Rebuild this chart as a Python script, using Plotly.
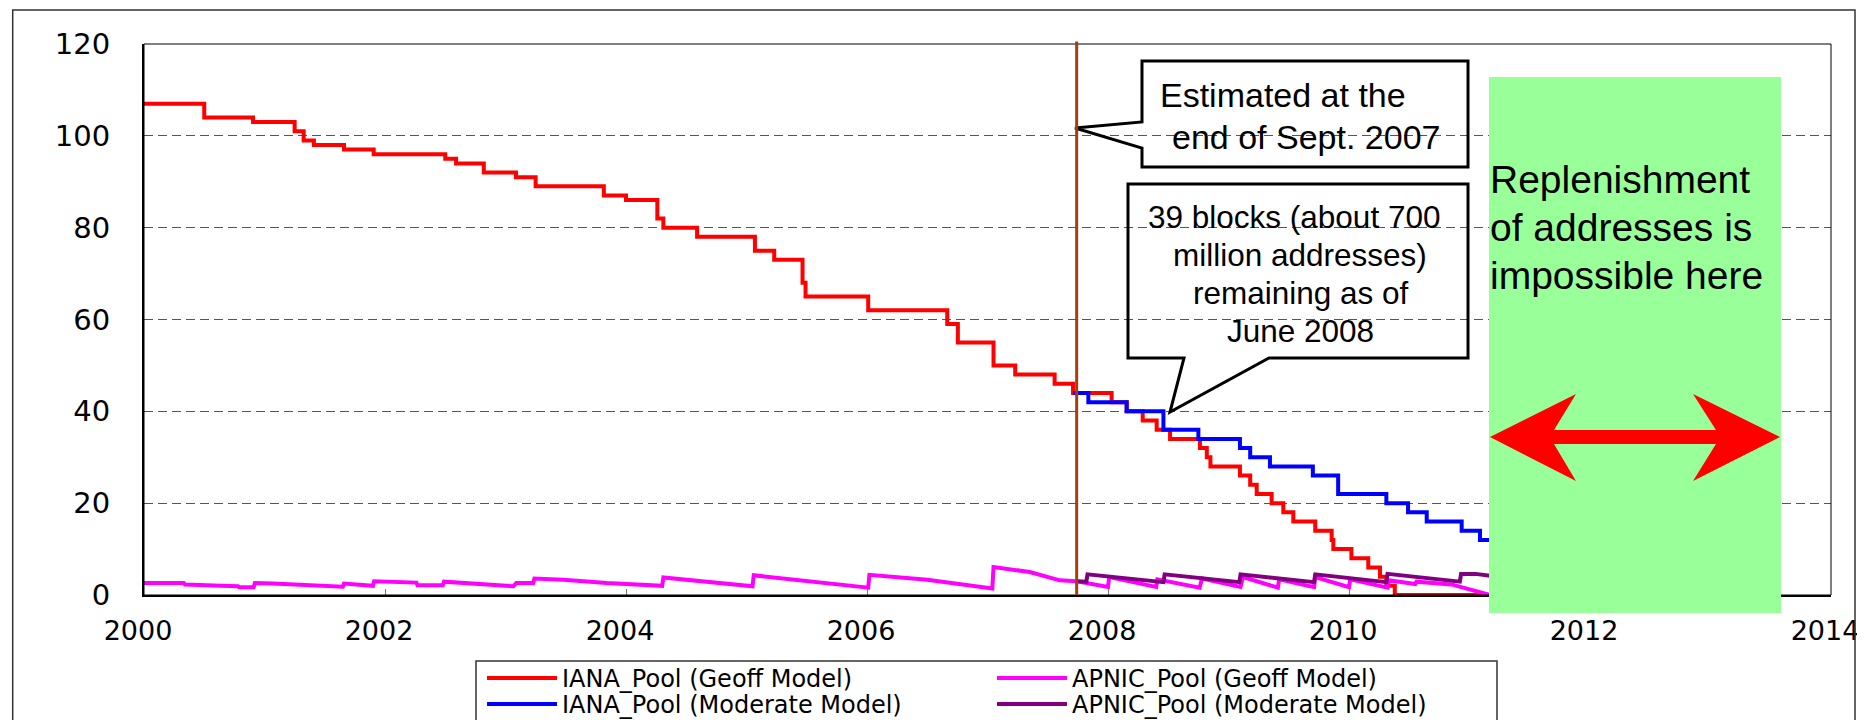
import plotly.graph_objects as go

# ---------------- data ----------------
iana_geoff_x = [2000.0, 2000.50, 2000.905, 2001.25, 2001.325, 2001.41, 2001.66, 2001.906, 2002.50, 2002.59,
                2002.82, 2003.087, 2003.25, 2003.816, 2004.00, 2004.26, 2004.31, 2004.59, 2005.07, 2005.23,
                2005.465, 2005.49, 2006.01, 2006.666, 2006.754, 2007.05, 2007.23, 2007.557, 2007.71, 2008.03,
                2008.155, 2008.288, 2008.404, 2008.515, 2008.763, 2008.82, 2008.85, 2009.095, 2009.18, 2009.234,
                2009.358, 2009.455, 2009.538, 2009.72, 2009.856, 2009.87, 2010.02, 2010.16, 2010.257, 2010.31,
                2010.38, 2011.2]
iana_geoff_y = [107, 104, 103, 101, 99, 98, 97, 96, 95, 94,
                92, 91, 89, 87, 86, 82, 80, 78, 75, 73,
                68, 65, 62, 59, 55, 50, 48, 46, 44, 42,
                40, 38, 36, 34, 32, 30, 28, 26, 24, 22,
                20, 18, 16, 14, 12, 10, 8, 6, 4, 2,
                0, 0]

iana_moderate_x = [2007.71, 2007.837, 2008.155, 2008.46, 2008.75, 2009.095, 2009.18, 2009.344, 2009.70, 2009.91,
                   2010.31, 2010.49, 2010.645, 2010.935, 2011.087, 2011.2]
iana_moderate_y = [44, 42, 40, 36, 34, 32, 30, 28, 26, 22,
                   20, 18, 16, 14, 12, 12]

apnic_geoff_x = [2000.00, 2000.33, 2000.34, 2000.63, 2000.64, 2000.78, 2000.79, 2000.91, 2000.92, 2001.07,
                 2001.27, 2001.52, 2001.65, 2001.66, 2001.85, 2001.90, 2001.91, 2002.26, 2002.27, 2002.48,
                 2002.49, 2002.84, 2003.065, 2003.09, 2003.23, 2003.24, 2003.48, 2003.84, 2004.20, 2004.30,
                 2004.31, 2004.60, 2005.05, 2005.06, 2005.50, 2006.01, 2006.02, 2006.50, 2007.04, 2007.05,
                 2007.35, 2007.60, 2007.74, 2008.00, 2008.01, 2008.40, 2008.41, 2008.76, 2008.78, 2009.10,
                 2009.12, 2009.41, 2009.42, 2009.71, 2009.72, 2010.00, 2010.01, 2010.32, 2010.33, 2010.55,
                 2010.56, 2010.85, 2011.17]
apnic_geoff_y = [2.6, 2.6, 2.3, 2.2, 2.0, 1.9, 1.7, 1.7, 2.6, 2.5,
                 2.2, 1.8, 1.8, 2.5, 2.1, 2.0, 3.0, 2.7, 2.1, 2.1,
                 2.9, 2.4, 1.9, 2.6, 2.6, 3.6, 3.3, 2.6, 2.2, 2.0,
                 3.8, 3.0, 1.9, 4.3, 3.0, 1.6, 4.4, 3.3, 1.4, 6.1,
                 5.0, 3.2, 3.0, 1.75, 3.9, 1.75, 3.4, 1.6, 3.6, 1.75,
                 3.9, 1.6, 3.4, 1.7, 3.9, 1.7, 3.4, 1.6, 3.2, 2.4,
                 2.9, 2.3, 0.0]

apnic_moderate_x = [2007.74, 2007.82, 2007.83, 2008.46, 2008.47, 2009.09, 2009.10, 2009.71, 2009.72, 2010.31,
                    2010.32, 2010.92, 2010.93, 2011.05, 2011.17]
apnic_moderate_y = [3.0, 2.9, 4.5, 2.8, 4.5, 2.8, 4.5, 2.8, 4.5, 2.8,
                    4.6, 2.9, 4.6, 4.6, 4.2]

series_names = ["IANA_Pool (Geoff Model)", "APNIC_Pool (Geoff Model)",
                "IANA_Pool (Moderate Model)", "APNIC_Pool (Moderate Model)"]
x_tick_vals = [2000, 2002, 2004, 2006, 2008, 2010, 2012, 2014]
y_tick_vals = [0, 20, 40, 60, 80, 100, 120]
estimate_date = 2007.74   # end of Sept. 2007 marker

callout1_lines = ["Estimated at the", "end of Sept. 2007"]
callout2_lines = ["39 blocks (about 700", "million addresses)", "remaining as of", "June 2008"]
green_lines = ["Replenishment", "of addresses is", "impossible here"]

# ---------------- geometry helpers ----------------
# targets are measured in screenshot pixels; the page body adds an 8 px offset
OFF = 8
W, H = 1865 - OFF, 720 - OFF
SL, SR, ST, SB = 144, 1831, 44, 595          # plot area in screenshot pixels
X0, X1 = 2000, 2014


def xp(px):
    return (px - SL) / (SR - SL)


def yp(py):
    return (SB - py) / (SB - ST)


def xdata_to_paper(x):
    return (x - X0) / (X1 - X0)


def path(points):
    return "M " + " L ".join(f"{xp(a):.5f},{yp(b):.5f}" for a, b in points) + " Z"


fig = go.Figure()
fig.add_trace(go.Scatter(x=iana_geoff_x, y=iana_geoff_y, mode="lines", name=series_names[0],
                         line=dict(color="#FF0000", width=4, shape="hv"), legend="legend"))
fig.add_trace(go.Scatter(x=iana_moderate_x, y=iana_moderate_y, mode="lines", name=series_names[2],
                         line=dict(color="#0000FF", width=4, shape="hv"), legend="legend2"))
fig.add_trace(go.Scatter(x=apnic_geoff_x, y=apnic_geoff_y, mode="lines", name=series_names[1],
                         line=dict(color="#FF00FF", width=4), legend="legend3"))
fig.add_trace(go.Scatter(x=apnic_moderate_x, y=apnic_moderate_y, mode="lines", name=series_names[3],
                         line=dict(color="#800080", width=4), legend="legend4"))

shapes = []
shapes.append(dict(type="rect", xref="paper", yref="paper", x0=0, x1=1, y0=0, y1=1,
                   line=dict(color="black", width=1), layer="above"))
shapes.append(dict(type="rect", xref="paper", yref="paper", x0=xp(12.7), x1=xp(1855), y0=yp(735), y1=yp(10),
                   line=dict(color="#333333", width=1.5), layer="above"))
# legend frame
shapes.append(dict(type="rect", xref="paper", yref="paper", x0=xp(476), x1=xp(1497), y0=yp(735), y1=yp(661),
                   line=dict(color="#333333", width=1.5), layer="above"))
shapes.append(dict(type="rect", xref="paper", yref="paper", x0=xp(1489), x1=xp(1781), y0=yp(613), y1=yp(77),
                   fillcolor="#99FF99", line=dict(width=0), layer="above"))
arrow_pts = [(1490, 437), (1576, 394), (1554, 430), (1716, 430), (1693, 394), (1780, 437),
             (1693, 481), (1716, 444), (1554, 444), (1576, 481)]
shapes.append(dict(type="path", xref="paper", yref="paper", path=path(arrow_pts),
                   fillcolor="#FF0000", line=dict(width=0), layer="above"))
c1 = [(1142, 61), (1468, 61), (1468, 167), (1142, 167), (1142, 148), (1075, 128), (1142, 122)]
shapes.append(dict(type="path", xref="paper", yref="paper", path=path(c1),
                   fillcolor="rgba(0,0,0,0)", line=dict(color="black", width=3), layer="above"))
c2 = [(1128, 184), (1468, 184), (1468, 358), (1269, 358), (1170, 412), (1184, 358), (1128, 358)]
shapes.append(dict(type="path", xref="paper", yref="paper", path=path(c2),
                   fillcolor="rgba(0,0,0,0)", line=dict(color="black", width=3), layer="above"))
shapes.append(dict(type="line", xref="paper", yref="paper",
                   x0=xdata_to_paper(estimate_date), x1=xdata_to_paper(estimate_date),
                   y0=0, y1=yp(41.5), line=dict(color="#A0410D", width=3), layer="above"))

annotations = []
for txt, (cx, cy) in zip(callout1_lines, [(1283, 95), (1306, 137)]):
    annotations.append(dict(text=txt, xref="paper", yref="paper", x=xp(cx), y=yp(cy),
                            xanchor="center", yanchor="middle", showarrow=False,
                            font=dict(family="Liberation Sans", size=34, color="black")))
for txt, (cx, cy) in zip(callout2_lines, [(1294, 217), (1300, 255), (1301, 293), (1300, 331)]):
    annotations.append(dict(text=txt, xref="paper", yref="paper", x=xp(cx), y=yp(cy),
                            xanchor="center", yanchor="middle", showarrow=False,
                            font=dict(family="Liberation Sans", size=31.5, color="black")))
for txt, cy in zip(green_lines, [180, 228, 275]):
    annotations.append(dict(text=txt, xref="paper", yref="paper", x=xp(1488), y=yp(cy),
                            xanchor="left", yanchor="middle", showarrow=False,
                            font=dict(family="Liberation Sans", size=39, color="black")))

legend_font = dict(family="DejaVu Sans", size=24, color="black")


def legend_box(px, row_center):
    return dict(orientation="v", x=xp(px), y=yp(row_center - 21), xanchor="left", yanchor="top",
                borderwidth=0, bgcolor="rgba(255,255,255,0)", font=legend_font, itemwidth=70)


fig.update_layout(
    width=W, height=H,
    paper_bgcolor="white", plot_bgcolor="white",
    margin=dict(l=SL - OFF, r=W - (SR - OFF), t=ST - OFF, b=H - (SB - OFF), autoexpand=False),
    showlegend=True,
    legend=legend_box(482, 677),
    legend2=legend_box(482, 703),
    legend3=legend_box(992, 677),
    legend4=legend_box(992, 703),
    xaxis=dict(range=[X0, X1], tickvals=x_tick_vals, ticks="inside", ticklen=6, tickcolor="#777777",
               showline=True, linecolor="black", linewidth=2, showgrid=False, zeroline=False,
               tickfont=dict(family="DejaVu Sans", size=27, color="black"),
               ticklabelstandoff=11, ticklabelshift=-6),
    yaxis=dict(range=[0, 120], tickvals=y_tick_vals, ticks="", showline=True, linecolor="black",
               linewidth=2, showgrid=True, gridcolor="#555555", griddash="9px,5px", gridwidth=1,
               zeroline=False, tickfont=dict(family="DejaVu Sans", size=29, color="black"),
               ticklabelstandoff=26),
    shapes=shapes, annotations=annotations,
)

fig.write_html("out.html")
